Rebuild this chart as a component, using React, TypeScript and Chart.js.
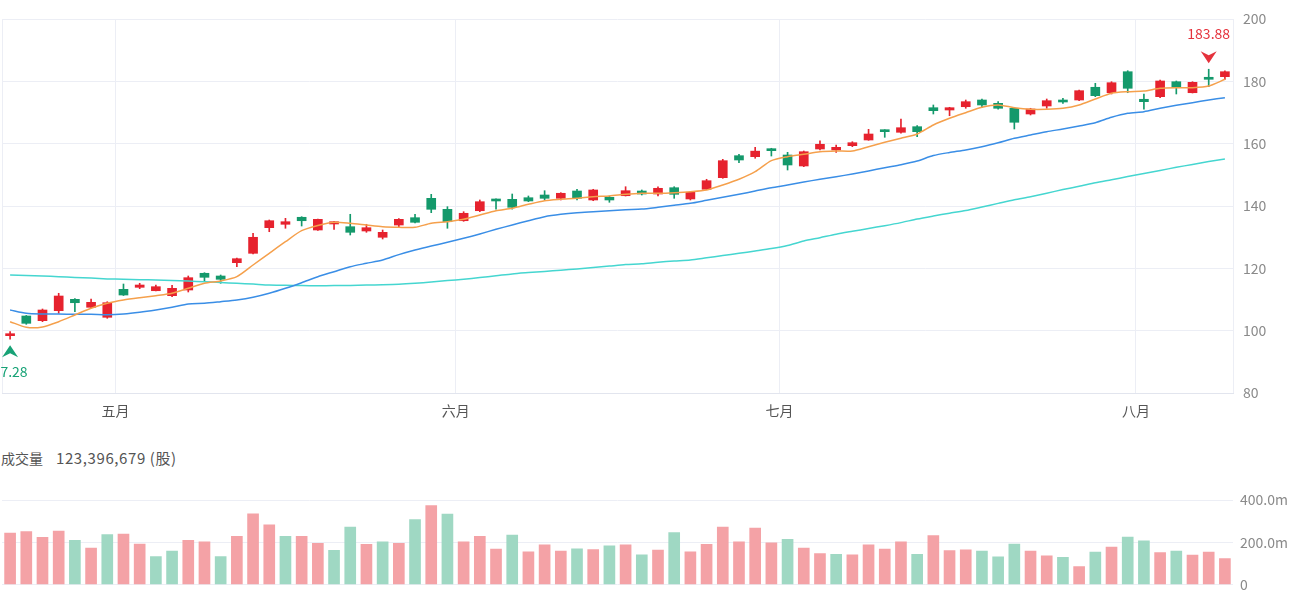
import React, { useEffect, useRef } from "react";
import { Chart, registerables } from "chart.js";

Chart.register(...registerables);

// Trading days shown on the chart
const dates = [
  "2024-04-22", "2024-04-23", "2024-04-24", "2024-04-25", "2024-04-26", "2024-04-29", "2024-04-30",
  "2024-05-02", "2024-05-03", "2024-05-06", "2024-05-07", "2024-05-08", "2024-05-09", "2024-05-10",
  "2024-05-13", "2024-05-14", "2024-05-15", "2024-05-16", "2024-05-17", "2024-05-20", "2024-05-21",
  "2024-05-22", "2024-05-23", "2024-05-24", "2024-05-28", "2024-05-29", "2024-05-30", "2024-05-31",
  "2024-06-03", "2024-06-04", "2024-06-05", "2024-06-06", "2024-06-07", "2024-06-10", "2024-06-11",
  "2024-06-12", "2024-06-13", "2024-06-14", "2024-06-17", "2024-06-18", "2024-06-19", "2024-06-20",
  "2024-06-21", "2024-06-24", "2024-06-25", "2024-06-26", "2024-06-27", "2024-06-28",
  "2024-07-01", "2024-07-02", "2024-07-03", "2024-07-05", "2024-07-08", "2024-07-09", "2024-07-10",
  "2024-07-11", "2024-07-12", "2024-07-15", "2024-07-16", "2024-07-17", "2024-07-18", "2024-07-19",
  "2024-07-22", "2024-07-23", "2024-07-24", "2024-07-25", "2024-07-26", "2024-07-29", "2024-07-30",
  "2024-07-31",
  "2024-08-01", "2024-08-02", "2024-08-05", "2024-08-06", "2024-08-07", "2024-08-08",
];

const opens = [
  98.39, 104.71, 103.2, 106.41, 110.06, 107.5, 104.29, 113.27, 113.91, 112.82,
  111.22, 113.05, 118.41, 117.54, 121.81, 124.82, 133.04, 134.13, 136.38, 132.3,
  134.23, 133.36, 131.98, 129.96, 133.9, 136.25, 142.47, 138.94, 135.28, 138.49,
  142.25, 142.15, 142.66, 143.53, 142.47, 144.81, 141.93, 142.79, 143.3, 144.81,
  143.85, 145.87, 142.25, 145.36, 149.08, 156.14, 155.82, 158.39, 156.36, 152.84,
  158.29, 157.97, 159.35, 161.18, 164.39, 163.65, 165.45, 171.54, 170.8, 171.86,
  174.01, 172.95, 171.35, 169.52, 172.09, 174.01, 174.01, 178.09, 176.35, 183.09,
  174.24, 175.07, 179.88, 176.35, 181.3, 181.49,
];
const highs = [
  99.67, 104.87, 106.95, 111.99, 110.26, 110.16, 109.29, 114.97, 115.2, 114.65,
  114.56, 117.54, 118.6, 117.86, 123.32, 131.24, 135.51, 136.05, 136.57, 135.83,
  135.09, 137.34, 134.13, 132.3, 135.93, 137.34, 143.75, 139.78, 138.17, 141.93,
  142.34, 143.85, 143.21, 144.91, 144.27, 145.36, 145.36, 143.21, 146.19, 145.14,
  146.19, 146.19, 144.59, 148.57, 154.98, 156.59, 158.83, 158.52, 157.23, 157.65,
  160.95, 159.57, 160.63, 164.61, 164.48, 167.92, 165.77, 172.41, 171.67, 174.01,
  174.33, 173.47, 171.67, 171.35, 174.33, 174.56, 177.22, 179.37, 179.88, 183.41,
  175.94, 180.43, 180.11, 179.88, 183.88, 183.41,
];
const lows = [
  97.28, 102.04, 102.88, 105.57, 106.09, 107.27, 103.97, 111.28, 113.47, 112.73,
  110.9, 112.41, 115.94, 115.2, 120.52, 124.6, 131.75, 132.85, 133.58, 132.14,
  132.52, 130.7, 131.56, 129.41, 133.16, 134.55, 137.85, 132.85, 135.09, 138.17,
  139.0, 139.0, 141.38, 141.93, 141.93, 141.93, 141.7, 141.19, 143.21, 143.53,
  143.21, 142.47, 141.93, 145.23, 148.89, 153.89, 155.31, 156.04, 151.55, 152.61,
  157.97, 157.23, 159.03, 161.08, 162.04, 163.33, 162.24, 169.52, 168.97, 171.35,
  171.67, 171.03, 164.71, 169.2, 171.35, 172.95, 173.79, 175.07, 175.94, 176.35,
  171.03, 174.75, 175.94, 176.26, 178.28, 180.65,
];
const closes = [
  98.83, 102.36, 106.63, 111.12, 108.97, 109.1, 108.97, 111.44, 114.65, 114.11,
  113.59, 117.0, 117.12, 116.48, 123.09, 129.96, 135.28, 134.96, 135.28, 135.73,
  134.96, 131.56, 133.04, 131.56, 135.73, 134.77, 138.94, 134.96, 137.66, 141.38,
  141.61, 139.58, 141.61, 142.47, 144.08, 142.47, 145.14, 141.93, 144.91, 143.85,
  145.68, 143.75, 144.4, 148.12, 154.54, 154.76, 157.6, 157.75, 153.16, 157.42,
  159.8, 158.83, 160.31, 163.1, 163.84, 165.12, 163.84, 170.58, 171.54, 173.47,
  172.41, 171.35, 166.86, 171.12, 173.79, 173.37, 177.0, 175.39, 179.56, 177.77,
  173.47, 180.11, 178.09, 179.69, 180.65, 183.09,
];

const ma5 = [
  102.88, 101.08, 101.18, 102.88, 105.03, 107.18, 108.78, 109.84, 110.58, 111.22,
  111.99, 113.59, 115.2, 115.94, 117.32, 121.07, 124.83, 128.55, 132.08, 133.75,
  134.77, 134.45, 133.9, 133.36, 133.16, 133.16, 134.45, 134.96, 135.73, 137.11,
  138.49, 139.26, 140.55, 141.7, 142.15, 142.47, 142.98, 143.21, 143.75, 144.08,
  144.08, 144.27, 144.59, 145.14, 146.74, 148.57, 151.0, 154.54, 155.82, 156.59,
  157.42, 157.65, 157.65, 159.03, 160.44, 161.72, 163.1, 165.99, 168.14, 169.94,
  171.67, 172.41, 171.54, 171.03, 171.03, 171.35, 172.41, 174.33, 176.16, 176.67,
  176.9, 177.77, 177.96, 177.96, 178.5, 180.65,
];
const ma20 = [
  106.63, 105.57, 105.35, 105.35, 105.25, 105.25, 105.12, 105.35, 105.89, 106.63,
  107.5, 108.56, 108.78, 109.29, 109.84, 110.71, 111.99, 113.59, 115.39, 117.32,
  118.92, 120.52, 121.61, 122.67, 124.4, 125.88, 127.17, 128.35, 129.64, 131.02,
  132.52, 133.9, 135.28, 136.57, 137.34, 137.85, 138.17, 138.49, 138.8, 139.0,
  139.58, 140.22, 140.87, 141.83, 142.79, 143.75, 144.81, 145.87, 146.74, 147.7,
  148.57, 149.4, 150.27, 151.23, 152.29, 153.25, 154.44, 156.2, 157.17, 157.97,
  159.03, 160.31, 161.72, 162.78, 163.84, 164.71, 165.67, 166.73, 168.46, 169.74,
  170.26, 171.35, 172.31, 173.15, 174.01, 174.75,
];
const ma60 = [
  117.86, 117.7, 117.54, 117.32, 117.09, 116.87, 116.61, 116.48, 116.35, 116.26,
  116.06, 115.9, 115.71, 115.45, 115.2, 114.94, 114.65, 114.56, 114.46, 114.4,
  114.46, 114.52, 114.62, 114.72, 114.88, 115.2, 115.62, 116.06, 116.51, 117.03,
  117.6, 118.21, 118.63, 119.02, 119.4, 119.79, 120.24, 120.72, 121.2, 121.46,
  121.97, 122.35, 122.67, 123.38, 124.09, 124.82, 125.56, 126.33, 127.33, 128.77,
  129.83, 130.95, 131.88, 132.78, 133.68, 134.67, 135.83, 136.79, 137.69, 138.56,
  139.68, 140.84, 141.99, 142.99, 144.11, 145.26, 146.32, 147.48, 148.44, 149.43,
  150.43, 151.39, 152.42, 153.32, 154.25, 155.08,
];

// Shares traded per day
const volumes = [
  243150000, 250480000, 224060000, 253120000, 209470000, 173050000, 236980000, 239210000, 192030000, 133040000,
  158160000, 209530000, 201870000, 132960000, 228640000, 334020000, 282940000, 228580000, 228710000, 194960000,
  162580000, 272470000, 190530000, 202040000, 195080000, 307690000, 373580000, 333970000, 201960000, 228620000,
  168470000, 234390000, 155290000, 187520000, 158230000, 168540000, 165610000, 183010000, 187480000, 140720000,
  162630000, 246010000, 155340000, 190470000, 272520000, 202010000, 266690000, 197830000, 213910000, 172880000,
  146520000, 143590000, 140680000, 187460000, 168520000, 201980000, 143620000, 231470000, 161230000, 164090000,
  158210000, 131870000, 192040000, 158190000, 136290000, 128930000, 85020000, 153810000, 177260000, 224180000,
  206630000, 150870000, 158240000, 139170000, 153760000, 123396679,
];

const priceTicks = { min: 80, max: 200, step: 20 };
const volumeTicks = { min: 0, max: 400000000, step: 200000000 };
const monthNames: Record<string, string> = {
  "04": "四月",
  "05": "五月",
  "06": "六月",
  "07": "七月",
  "08": "八月",
};

const UP = "#e6222e";
const DOWN = "#14996b";
const UP_VOL = "#f4a2a6";
const DOWN_VOL = "#9fd8c3";
const MA5_COLOR = "#f5a04c";
const MA20_COLOR = "#3a8ee6";
const MA60_COLOR = "#45d6d0";
const GRID = "#eceef5";
const FONT = '"Noto Sans CJK SC", "Noto Sans", sans-serif';

function monthLabel(i: number): string {
  if (i <= 0 || i >= dates.length) return "";
  const m = dates[i].slice(5, 7);
  return m !== dates[i - 1].slice(5, 7) ? monthNames[m] : "";
}

const candleColors = opens.map((o, i) => (closes[i] >= o ? UP : DOWN));
const volumeColors = volumes.map((_, i) => {
  const prev = i === 0 ? opens[0] : closes[i - 1];
  return closes[i] >= prev ? UP_VOL : DOWN_VOL;
});

// Marks the highest high and lowest low with an arrow and its value
const extremaPlugin = {
  id: "extrema",
  afterDatasetsDraw(chart: any) {
    const { ctx, scales } = chart;
    const x = scales.x;
    const y = scales.y;
    const hiVal = Math.max(...highs);
    const loVal = Math.min(...lows);
    const hiIdx = highs.indexOf(hiVal);
    const loIdx = lows.indexOf(loVal);

    ctx.save();
    ctx.font = `14px ${FONT}`;
    ctx.textAlign = "center";
    ctx.textBaseline = "middle";

    const hx = x.getPixelForValue(hiIdx);
    const hy = y.getPixelForValue(hiVal);
    ctx.fillStyle = "#e5323c";
    ctx.beginPath();
    ctx.moveTo(hx, hy - 6);
    ctx.lineTo(hx - 8, hy - 18);
    ctx.lineTo(hx, hy - 14);
    ctx.lineTo(hx + 8, hy - 18);
    ctx.closePath();
    ctx.fill();
    ctx.fillText(hiVal.toFixed(2), hx, hy - 36);

    const lx = x.getPixelForValue(loIdx);
    const ly = y.getPixelForValue(loVal);
    ctx.fillStyle = "#17a276";
    ctx.beginPath();
    ctx.moveTo(lx, ly + 6);
    ctx.lineTo(lx - 8, ly + 18);
    ctx.lineTo(lx, ly + 14);
    ctx.lineTo(lx + 8, ly + 18);
    ctx.closePath();
    ctx.fill();
    ctx.fillText(loVal.toFixed(2), lx, ly + 33);
    ctx.restore();
  },
};

export default function App() {
  const priceRef = useRef<HTMLCanvasElement>(null);
  const volRef = useRef<HTMLCanvasElement>(null);

  useEffect(() => {
    const lineStyle = {
      type: "line" as const,
      pointRadius: 0,
      borderWidth: 1.5,
      tension: 0.25,
      fill: false,
    };

    const priceChart = new Chart(priceRef.current!, {
      type: "bar",
      data: {
        labels: dates,
        datasets: [
          { ...lineStyle, label: "MA5", data: ma5, borderColor: MA5_COLOR, order: 0 } as any,
          { ...lineStyle, label: "MA20", data: ma20, borderColor: MA20_COLOR, order: 0 } as any,
          { ...lineStyle, label: "MA60", data: ma60, borderColor: MA60_COLOR, order: 0 } as any,
          {
            type: "bar",
            label: "body",
            data: opens.map((o, i) => [o, closes[i]]),
            backgroundColor: candleColors,
            barThickness: 9,
            minBarLength: 2,
            grouped: false,
            order: 1,
          } as any,
          {
            type: "bar",
            label: "wick",
            data: lows.map((l, i) => [l, highs[i]]),
            backgroundColor: candleColors,
            barThickness: 1,
            grouped: false,
            order: 2,
          } as any,
        ],
      },
      options: {
        animation: false,
        responsive: false,
        events: [],
        layout: { padding: { top: 19, left: 2, right: 0, bottom: 0 } },
        plugins: { legend: { display: false }, tooltip: { enabled: false } },
        scales: {
          x: {
            type: "category",
            offset: true,
            grid: {
              offset: true,
              drawTicks: false,
              color: (c: any) => {
                if (c.type !== "tick") return GRID;
                return c.index === 0 || monthLabel(c.index) ? GRID : "rgba(0,0,0,0)";
              },
            },
            border: { color: "#e2e5ee", width: 1 },
            ticks: {
              autoSkip: false,
              maxRotation: 0,
              labelOffset: -8,
              padding: 9,
              color: "#555",
              font: { family: FONT, size: 14 },
              callback: (_v: any, i: number) => monthLabel(i),
            },
            afterFit: (s: any) => {
              s.height = 37;
            },
          },
          y: {
            position: "right",
            min: priceTicks.min,
            max: priceTicks.max,
            grid: { color: GRID, drawTicks: false },
            border: { display: false },
            ticks: {
              stepSize: priceTicks.step,
              padding: 10,
              color: "#8a8a8a",
              font: { family: FONT, size: 14 },
            },
            afterFit: (s: any) => {
              s.width = 67;
            },
          },
        },
      },
      plugins: [extremaPlugin],
    });

    const volumeChart = new Chart(volRef.current!, {
      type: "bar",
      data: {
        labels: dates,
        datasets: [
          {
            label: "成交量",
            data: volumes,
            backgroundColor: volumeColors,
            barThickness: 11,
          },
        ],
      },
      options: {
        animation: false,
        responsive: false,
        events: [],
        layout: { padding: { top: 30, left: 2, right: 0, bottom: 9 } },
        plugins: { legend: { display: false }, tooltip: { enabled: false } },
        scales: {
          x: { display: false, offset: true },
          y: {
            position: "right",
            min: volumeTicks.min,
            max: volumeTicks.max,
            grid: { color: GRID, drawTicks: false },
            border: { display: false },
            ticks: {
              stepSize: volumeTicks.step,
              padding: 7,
              color: "#8a8a8a",
              font: { family: FONT, size: 14 },
              callback: (v: any) => (Number(v) === 0 ? "0" : (Number(v) / 1e6).toFixed(1) + "m"),
            },
            afterFit: (s: any) => {
              s.width = 67;
            },
          },
        },
      },
    });

    return () => {
      priceChart.destroy();
      volumeChart.destroy();
    };
  }, []);

  const lastVolume = volumes[volumes.length - 1].toLocaleString("en-US");

  return (
    <div
      style={{
        position: "absolute",
        left: 0,
        top: 0,
        width: 1300,
        height: 600,
        background: "#fff",
        fontFamily: FONT,
        overflow: "hidden",
      }}
    >
      <canvas
        ref={priceRef}
        width={1300}
        height={430}
        style={{ position: "absolute", left: 0, top: 0, width: 1300, height: 430 }}
      />
      <div
        style={{
          position: "absolute",
          left: 1,
          top: 448,
          fontSize: 14,
          lineHeight: "20px",
          color: "#555",
          whiteSpace: "nowrap",
        }}
      >
        成交量
        <span style={{ marginLeft: 13, fontSize: 15, letterSpacing: 0.6 }}>{lastVolume} (股)</span>
      </div>
      <canvas
        ref={volRef}
        width={1300}
        height={130}
        style={{ position: "absolute", left: 0, top: 470, width: 1300, height: 130 }}
      />
    </div>
  );
}
